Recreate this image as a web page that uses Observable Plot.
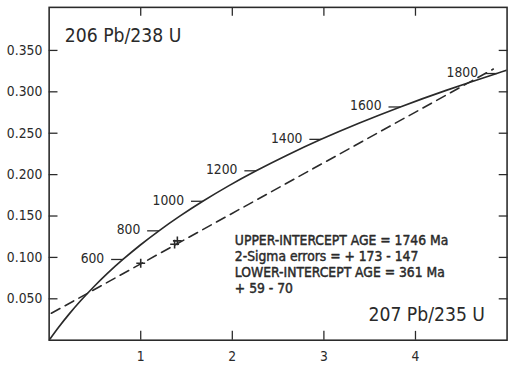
<!DOCTYPE html>
<html><head><meta charset="utf-8">
<script src="https://cdn.jsdelivr.net/npm/d3@7"></script>
<script src="https://cdn.jsdelivr.net/npm/@observablehq/plot@0.6"></script>
<style>
html,body{margin:0;padding:0;background:#fff;overflow:hidden;}
svg{display:block;}
</style></head><body><div id="chart"></div>
<script>
// Concordia curve (age in Ma, 207Pb/235U, 206Pb/238U)
const concordiaAge = [0,100,200,300,400,500,600,700,800,900,1000,1100,1200,1300,1400,1500,1600,1700,1800,1850];
const concordiaX = [0,0.1035,0.2177,0.3437,0.4828,0.6363,0.8056,0.9925,1.1988,1.4264,1.6774,1.9546,2.2603,2.5976,2.9700,3.3813,3.8340,4.3348,4.8870,5.1840];
const concordiaY = [0,0.0156,0.0315,0.0476,0.0640,0.0807,0.0975,0.1147,0.1321,0.1498,0.1678,0.1861,0.2046,0.2234,0.2426,0.2620,0.2817,0.3017,0.3221,0.3324];
const labelAges = [600,800,1000,1200,1400,1600,1800];
// Discordia line ends
const discordiaX = [0.024, 4.85];
const discordiaY = [0.0325, 0.3275];
// Analysed points
const pointX = [1.00, 1.37, 1.40];
const pointY = [0.093, 0.116, 0.120];
// Ticks
const xTicks = [1,2,3,4];
const yTicks = [0.05,0.10,0.15,0.20,0.25,0.30,0.35];
const yTitle = "206 Pb/238 U";
const xTitle = "207 Pb/235 U";
const resultLines = ["UPPER-INTERCEPT AGE = 1746 Ma","2-Sigma errors = + 173 - 147","LOWER-INTERCEPT AGE = 361 Ma","+ 59 - 70"];

const curve = concordiaAge.map((a,i)=>({age:a,x:concordiaX[i],y:concordiaY[i]}));
const labels = curve.filter(d=>labelAges.includes(d.age));
const disc = discordiaX.map((x,i)=>({x,y:discordiaY[i]}));
const pts = pointX.map((x,i)=>({x,y:pointY[i]}));

const dashSym = {draw(ctx){ctx.moveTo(-12,0);ctx.lineTo(0,0);}};
const crossSym = {draw(ctx){ctx.moveTo(-4.5,0);ctx.lineTo(4.5,0);ctx.moveTo(0,-4.5);ctx.lineTo(0,4.5);}};

const FONT = '"DejaVu Sans Condensed","Liberation Sans Narrow","DejaVu Sans",sans-serif';
const ink = "#2a2a2a";

const chart = Plot.plot({
  width: 520, height: 370,
  marginLeft: 49.5, marginRight: 4.5, marginTop: 7, marginBottom: 24.3,
  style: {fontFamily: FONT, fontSize: "14px", color: ink, background: "#fff", fontStretch: "condensed"},
  x: {domain: [0,5]},
  y: {domain: [0,0.402]},
  marks: [
    Plot.frame({stroke: ink, strokeWidth: 1.6}),
    Plot.axisX({anchor:"bottom", ticks: xTicks, tickSize: -9, tickPadding: 20, tickFormat: d3.format("d"), label: null, stroke: ink, strokeWidth: 1.3, fontSize: 14}),
    Plot.axisX({anchor:"top", ticks: xTicks, tickSize: -8, tickFormat: () => "", label: null, stroke: ink, strokeWidth: 1.3}),
    Plot.axisY({anchor:"left", ticks: yTicks, tickSize: -9, tickPadding: 16, tickFormat: d3.format(".3f"), label: null, stroke: ink, strokeWidth: 1.3, fontSize: 14}),
    Plot.axisY({anchor:"right", ticks: yTicks, tickSize: -9, tickFormat: () => "", label: null, stroke: ink, strokeWidth: 1.3}),
    Plot.line(curve, {x:"x", y:"y", stroke: ink, strokeWidth: 1.7, curve: "natural", clip: true}),
    Plot.line(disc, {x:"x", y:"y", stroke: ink, strokeWidth: 1.6, strokeDasharray: "10,6", clip: true}),
    Plot.dot(labels, {x:"x", y:"y", symbol: dashSym, stroke: ink, strokeWidth: 1.3, fill: "none"}),
    Plot.text(labels, {x:"x", y:"y", text: d=>String(d.age), textAnchor:"end", dx:-19, dy:-1, fontSize: 14, fill: ink}),
    Plot.dot(pts, {x:"x", y:"y", symbol: crossSym, stroke: ink, strokeWidth: 1.6, fill: "none"}),
    Plot.text([yTitle], {frameAnchor:"top-left", dx: 16, dy: 29, lineAnchor:"middle", textAnchor:"start", fontSize: 19.5, fill: ink}),
    Plot.text([xTitle], {frameAnchor:"bottom-right", dx: -22.5, dy: -26, lineAnchor:"middle", textAnchor:"end", fontSize: 19.5, fill: ink}),
    Plot.text([resultLines.join("\n")], {frameAnchor:"top-left", dx: 189, dy: 230, lineAnchor:"top", textAnchor:"start", fontSize: 14, lineHeight: 1.17, fill: ink, stroke: ink, strokeWidth: 0.45})
  ]
});
document.getElementById("chart").appendChild(chart);
</script></body></html>
